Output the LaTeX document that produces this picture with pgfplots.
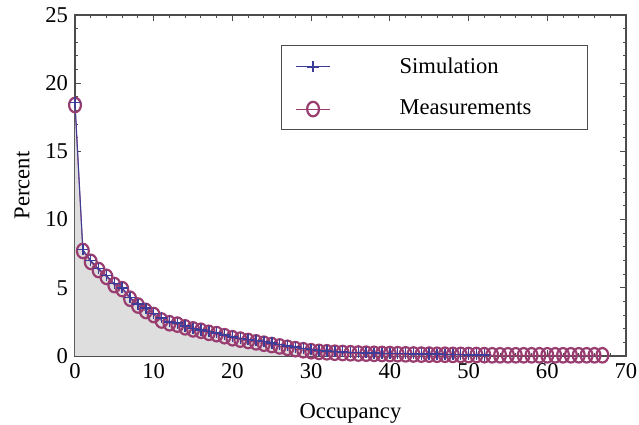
\documentclass[border=0pt]{standalone}
\usepackage{pgfplots}
\pgfplotsset{compat=1.18}
\usepackage{fontspec}
\setmainfont{Liberation Serif}
\definecolor{simblue}{rgb}{0.24,0.24,0.6}
\definecolor{measpurple}{rgb}{0.6,0.24,0.44}
\definecolor{fillgray}{rgb}{0.87,0.87,0.87}
\newcommand{\chartfont}{\fontsize{11.3}{13.5}\selectfont}

\pgfplotstableread{
x y
0 18.6
1 7.8
2 7.0
3 6.4
4 5.9
5 5.3
6 5.0
7 4.3
8 3.8
9 3.5
10 3.1
11 2.8
12 2.5
13 2.4
14 2.2
15 2.0
16 1.9
17 1.8
18 1.7
19 1.55
20 1.4
21 1.3
22 1.2
23 1.15
24 1.05
25 0.95
26 0.85
27 0.75
28 0.65
29 0.55
30 0.48
31 0.42
32 0.37
33 0.33
34 0.30
35 0.27
36 0.25
37 0.23
38 0.21
39 0.20
40 0.19
41 0.18
42 0.17
43 0.16
44 0.15
45 0.14
46 0.13
47 0.12
48 0.11
49 0.10
50 0.09
51 0.08
52 0.07
}\simdata

\pgfplotstableread{
x y
0 18.4
1 7.7
2 6.9
3 6.3
4 5.8
5 5.2
6 4.9
7 4.2
8 3.7
9 3.3
10 3.0
11 2.6
12 2.4
13 2.3
14 2.1
15 1.95
16 1.85
17 1.7
18 1.6
19 1.45
20 1.3
21 1.2
22 1.1
23 1.0
24 0.9
25 0.8
26 0.7
27 0.6
28 0.5
29 0.42
30 0.35
31 0.30
32 0.27
33 0.24
34 0.22
35 0.20
36 0.18
37 0.17
38 0.16
39 0.15
40 0.14
41 0.13
42 0.12
43 0.11
44 0.10
45 0.10
46 0.09
47 0.09
48 0.08
49 0.08
50 0.07
51 0.07
52 0.06
53 0.05
54 0.05
55 0.05
56 0.05
57 0.05
58 0.05
59 0.05
60 0.05
61 0.05
62 0.05
63 0.05
64 0.05
65 0.05
66 0.05
67 0.05
}\measdata

\begin{document}
\begin{tikzpicture}[font=\chartfont]
\begin{axis}[
    scale only axis,
    width=275.5pt, height=170.5pt,
    xmin=0, xmax=70, ymin=0, ymax=25,
    xtick={0,10,...,70}, ytick={0,5,...,25},
    minor x tick num=4, minor y tick num=4,
    tick align=inside,
    major tick length=3pt, minor tick length=1.6pt,
    axis line style={black!70, line width=0.6pt},
    tick style={black!70, line width=0.5pt},
    xlabel={Occupancy}, ylabel={Percent},
    xlabel style={yshift=-6pt},
    ylabel style={yshift=1pt},
    /pgf/number format/assume math mode=true,
    tick label style={font=\chartfont},
    label style={font=\chartfont},
    legend image code/.code={
        \draw[mark repeat=2, mark phase=2, #1]
            plot coordinates {(0cm,0cm) (0.3cm,0cm) (0.6cm,0cm)};
        \path[draw=none] (0.6cm,0cm) -- (1.75cm,0cm);
    },
    legend cell align=left,
    legend style={
        at={(103pt,155.5pt)}, anchor=north west,
        draw=black!70, line width=0.5pt,
        inner xsep=7pt, inner ysep=4pt,
        row sep=8pt,
        font=\chartfont,
    },
]
\addplot[fill=fillgray, draw=none, forget plot] table[x=x, y=y] {\simdata} \closedcycle;
\addplot[color=measpurple, line width=0.5pt, mark=o,
    mark options={line width=1.1pt, xscale=0.9, yscale=1.1}, mark size=3.3pt,
    forget plot] table[x=x, y=y] {\measdata};
\addplot[color=simblue, line width=0.5pt, mark=+,
    mark options={line width=0.75pt}, mark size=2.8pt] table[x=x, y=y] {\simdata};
\addlegendentry{Simulation}
\addlegendimage{color=measpurple, line width=0.5pt, mark=o,
    mark options={line width=1.1pt, xscale=0.9, yscale=1.1}, mark size=3.3pt}
\addlegendentry{\makebox[85pt][l]{Measurements}}
\end{axis}
\pgfresetboundingbox
\path[use as bounding box]
    ([shift={(-37.5pt,-34.5pt)}]current axis.south west)
    rectangle ([shift={(6.5pt,7.5pt)}]current axis.north east);
\end{tikzpicture}
\end{document}
